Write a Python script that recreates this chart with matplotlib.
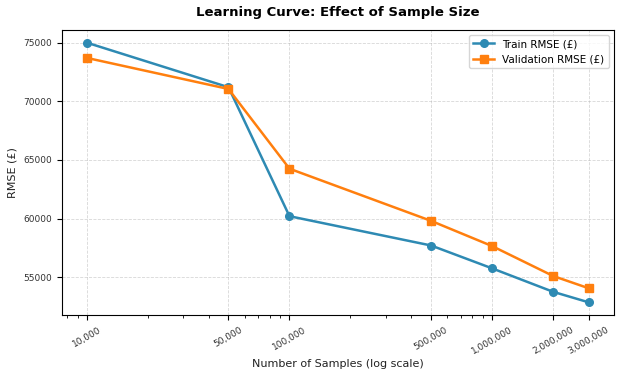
import matplotlib
matplotlib.use("Agg")
import matplotlib.pyplot as plt
from matplotlib.ticker import FixedLocator, FixedFormatter

sample_sizes = [10000, 50000, 100000, 500000, 1000000, 2000000, 3000000]
tick_labels = ["10,000", "50,000", "100,000", "500,000", "1,000,000", "2,000,000", "3,000,000"]
train_rmse = [75000, 71200, 60200, 57700, 55750, 53750, 52850]
val_rmse = [73700, 71050, 64250, 59800, 57650, 55100, 54050]

fig, ax = plt.subplots(figsize=(6.17, 3.71), dpi=100)
ax.plot(sample_sizes, train_rmse, marker="o", color="#2E8AB3", linewidth=1.8,
        markersize=5.5, label="Train RMSE (£)")
ax.plot(sample_sizes, val_rmse, marker="s", color="#FF7F0E", linewidth=1.8,
        markersize=5.5, label="Validation RMSE (£)")
ax.set_xscale("log")
ax.xaxis.set_major_locator(FixedLocator(sample_sizes))
ax.xaxis.set_major_formatter(FixedFormatter(tick_labels))
plt.setp(ax.get_xticklabels(), rotation=30, fontsize=6.5, color="#333333")
ax.tick_params(axis="y", labelsize=6.5, labelcolor="#333333")
ax.set_xlabel("Number of Samples (log scale)", fontsize=8, color="#222222", labelpad=2)
ax.set_ylabel("RMSE (£)", fontsize=8, color="#222222")
ax.set_title("Learning Curve: Effect of Sample Size", fontsize=9.5, fontweight="bold", pad=10)
ax.grid(True, linestyle="--", alpha=0.5, linewidth=0.6)
ax.legend(fontsize=7.5, loc="upper right")
fig.subplots_adjust(left=0.10, right=0.995, top=0.92, bottom=0.15)
fig.savefig("out.png", dpi=100)
